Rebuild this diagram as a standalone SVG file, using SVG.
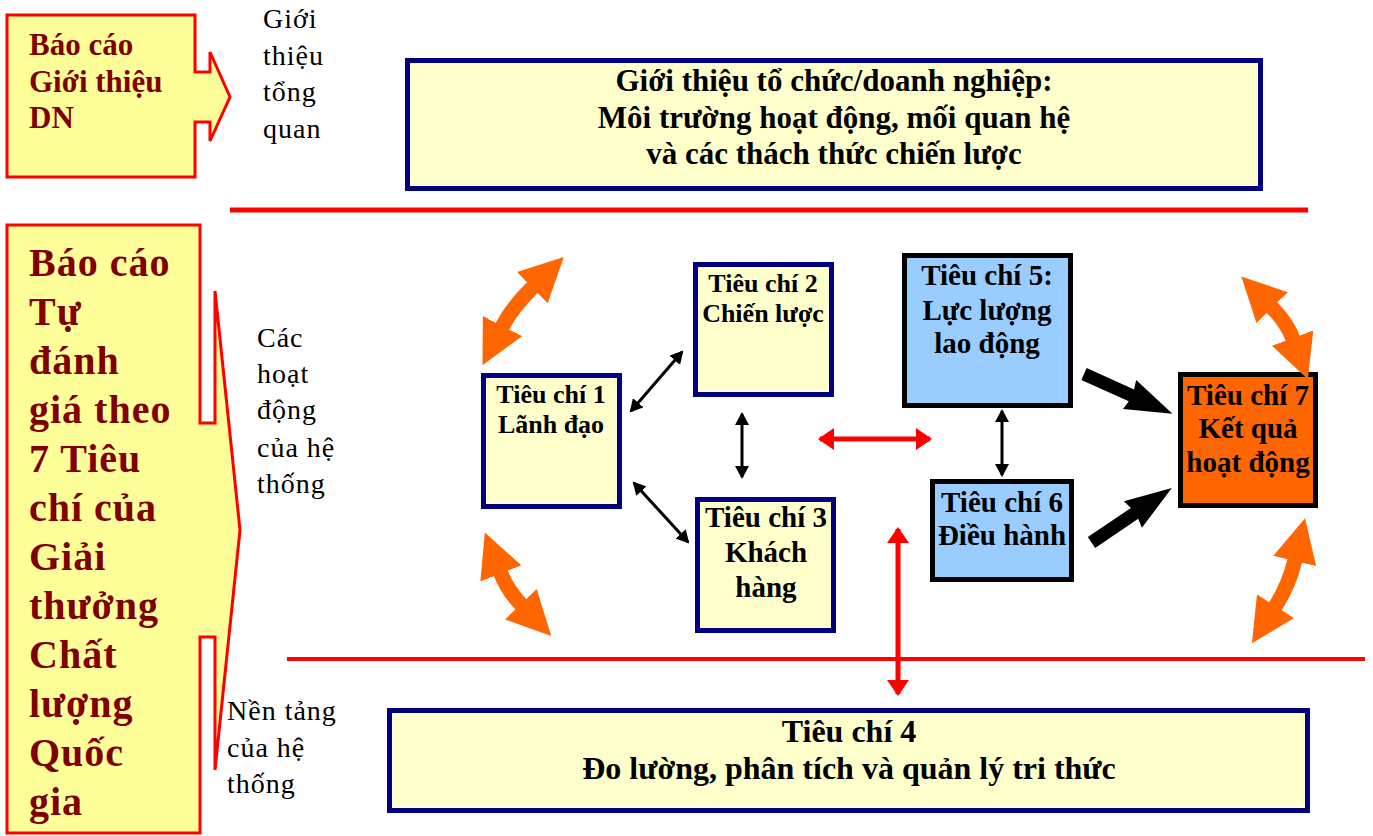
<svg xmlns="http://www.w3.org/2000/svg" width="1373" height="836" viewBox="0 0 1373 836">
<style>
.callout{fill:#FFFF99;stroke:#FF0000;stroke-width:3}
.ybox{fill:#FFFFCC;stroke:#000080;stroke-width:5}
.bbox{fill:#99CCFF;stroke:#000000;stroke-width:5}
.obox{fill:#FF6600;stroke:#000000;stroke-width:5}
.red{font-family:"Liberation Serif","Times New Roman",serif;font-weight:bold;fill:#800000}
.lbl{font-family:"Liberation Serif","Times New Roman",serif;font-size:28px;letter-spacing:1px;fill:#000}
.nt{font-family:"Liberation Serif","Times New Roman",serif;font-weight:bold;fill:#000;text-anchor:middle}
.sep{stroke:#FF0000;fill:none}
.thin{stroke:#000;stroke-width:3;fill:none;marker-start:url(#mBlack);marker-end:url(#mBlack)}
.redarr{stroke:#FF0000;stroke-width:5;fill:none;marker-start:url(#mRed);marker-end:url(#mRed)}
.orange{stroke:#FF6600;stroke-width:15;fill:none;marker-start:url(#mOrange);marker-end:url(#mOrange)}
</style>
<defs>
<marker id="mBlack" markerUnits="userSpaceOnUse" viewBox="0 0 14 14" markerWidth="14" markerHeight="14" refX="11" refY="7" orient="auto-start-reverse"><path d="M0,0 L13,7 L0,14 z" fill="#000"/></marker>
<marker id="mRed" markerUnits="userSpaceOnUse" viewBox="0 0 16 22" markerWidth="16" markerHeight="22" refX="14" refY="11" orient="auto-start-reverse"><path d="M0,0 L16,11 L0,22 z" fill="#FF0000"/></marker>
<marker id="mOrange" markerUnits="userSpaceOnUse" viewBox="0 0 44 44" markerWidth="44" markerHeight="44" refX="1" refY="22" orient="auto-start-reverse"><path d="M0,0 L44,22 L0,44 z" fill="#FF6600"/></marker>
</defs>
<rect width="1373" height="836" fill="#FFFFFF"/>

<g id="report-intro">
<path class="callout" d="M7,15 L195,15 L195,72 L210,72 L210,52 L230,97 L210,141 L210,122 L195,122 L195,177 L7,177 Z"/>
<text class="red" font-size="31" x="29" y="55">Báo cáo</text>
<text class="red" font-size="31" x="29" y="92">Giới thiệu</text>
<text class="red" font-size="31" x="29" y="128">DN</text>
</g>

<g id="label-intro">
<text class="lbl" x="263" y="28">Giới</text>
<text class="lbl" x="263" y="65">thiệu</text>
<text class="lbl" x="263" y="101">tổng</text>
<text class="lbl" x="263" y="138">quan</text>
</g>

<g id="report-self">
<path class="callout" d="M7,225 L200,225 L200,423 L215,423 L215,291 L240,530 L215,770 L215,637 L200,637 L200,833 L7,833 Z"/>
<g class="red" font-size="40" letter-spacing="1">
<text x="29" y="276">Báo cáo</text>
<text x="29" y="325">Tự</text>
<text x="29" y="374">đánh</text>
<text x="29" y="423">giá theo</text>
<text x="29" y="472">7 Tiêu</text>
<text x="29" y="521">chí của</text>
<text x="29" y="570">Giải</text>
<text x="29" y="619">thưởng</text>
<text x="29" y="668">Chất</text>
<text x="29" y="717">lượng</text>
<text x="29" y="766">Quốc</text>
<text x="29" y="815">gia</text>
</g>
</g>

<g id="label-activities">
<text class="lbl" x="257" y="347">Các</text>
<text class="lbl" x="257" y="383">hoạt</text>
<text class="lbl" x="257" y="419">động</text>
<text class="lbl" x="257" y="457">của hệ</text>
<text class="lbl" x="257" y="493">thống</text>
</g>

<g id="label-foundation">
<text class="lbl" x="227" y="720">Nền tảng</text>
<text class="lbl" x="227" y="757">của hệ</text>
<text class="lbl" x="227" y="793">thống</text>
</g>

<g id="profile">
<rect class="ybox" x="407.5" y="60.5" width="853" height="128"/>
<text class="nt" font-size="31" x="834" y="91">Giới thiệu tổ chức/doanh nghiệp:</text>
<text class="nt" font-size="31" x="834" y="128">Môi trường hoạt động, mối quan hệ</text>
<text class="nt" font-size="31" x="834" y="164">và các thách thức chiến lược</text>
</g>

<g id="separators">
<line class="sep" stroke-width="5" x1="230" y1="210" x2="1308" y2="210"/>
<line class="sep" stroke-width="4" x1="287" y1="659" x2="1365" y2="659"/>
</g>

<g id="tc1">
<rect class="ybox" x="483.5" y="375.5" width="136" height="131"/>
<text class="nt" font-size="26" x="551" y="403">Tiêu chí 1</text>
<text class="nt" font-size="26" x="551" y="433">Lãnh đạo</text>
</g>

<g id="tc2">
<rect class="ybox" x="695.5" y="264.5" width="136" height="130"/>
<text class="nt" font-size="26" x="763" y="292">Tiêu chí 2</text>
<text class="nt" font-size="26" x="763" y="322">Chiến lược</text>
</g>

<g id="tc3">
<rect class="ybox" x="697.5" y="499.5" width="136" height="131"/>
<text class="nt" font-size="29" x="766" y="527">Tiêu chí 3</text>
<text class="nt" font-size="29" x="766" y="562">Khách</text>
<text class="nt" font-size="29" x="766" y="597">hàng</text>
</g>

<g id="tc5">
<rect class="bbox" x="904.5" y="255.5" width="166" height="150"/>
<text class="nt" font-size="29" x="987" y="285">Tiêu chí 5:</text>
<text class="nt" font-size="29" x="987" y="320">Lực lượng</text>
<text class="nt" font-size="29" x="987" y="353">lao động</text>
</g>

<g id="tc6">
<rect class="bbox" x="932.5" y="481.5" width="139" height="98"/>
<text class="nt" font-size="29" x="1002" y="512">Tiêu chí 6</text>
<text class="nt" font-size="29" x="1002" y="545">Điều hành</text>
</g>

<g id="tc7">
<rect class="obox" x="1180.5" y="374.5" width="135" height="131"/>
<text class="nt" font-size="29" x="1248" y="405">Tiêu chí 7</text>
<text class="nt" font-size="29" x="1248" y="438">Kết quả</text>
<text class="nt" font-size="29" x="1248" y="472">hoạt động</text>
</g>

<g id="tc4">
<rect class="ybox" x="389.5" y="710.5" width="918" height="100"/>
<text class="nt" font-size="32" x="849" y="742">Tiêu chí 4</text>
<text class="nt" font-size="32" x="849" y="779">Đo lường, phân tích và quản lý tri thức</text>
</g>

<g id="connectors">
<line class="thin" x1="631" y1="411" x2="682" y2="352"/>
<line class="thin" x1="634" y1="483" x2="688" y2="542"/>
<line class="thin" x1="742" y1="414" x2="742" y2="477"/>
<line class="thin" x1="1002" y1="411" x2="1002" y2="475"/>
<line class="redarr" x1="820" y1="439" x2="930" y2="439"/>
<line class="redarr" x1="898" y1="529" x2="898" y2="694"/>
<polygon fill="#000" points="0,-6.5 52,-6.5 50,-16 97,0 50,16 52,6.5 0,6.5" transform="translate(1084,374) rotate(24.2)"/>
<polygon fill="#000" points="0,-6.5 52,-6.5 50,-16 97,0 50,16 52,6.5 0,6.5" transform="translate(1091.5,542.5) rotate(-34.1)"/>
<path class="orange" d="M502,327 Q512,307.4 533,287"/>
<path class="orange" d="M500.5,572.5 Q507.5,590.4 521.5,605"/>
<path class="orange" d="M1271.5,307 Q1287,322.7 1293,339"/>
<path class="orange" d="M1295,560 Q1289,585 1275,607"/>
</g>
</svg>
